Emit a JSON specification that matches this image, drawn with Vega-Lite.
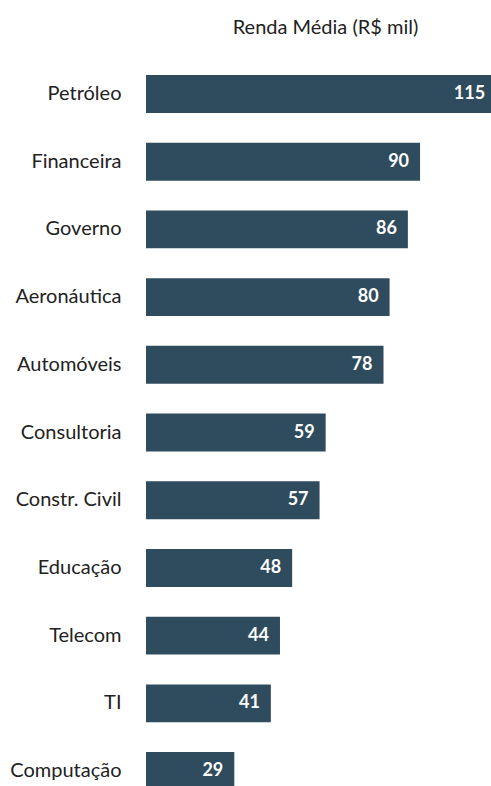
{
  "$schema": "https://vega.github.io/schema/vega-lite/v6.json",
  "autosize": "none",
  "width": 345,
  "height": 715,
  "padding": {"left": 146, "top": 75, "right": 0, "bottom": 0},
  "background": "white",
  "title": {
    "text": "Renda Média (R$ mil)",
    "anchor": "middle",
    "dx": 7,
    "offset": 37,
    "fontSize": 20,
    "font": "Lato",
    "fontWeight": "normal",
    "color": "#222222"
  },
  "data": {
    "values": [
      {"setor": "Petróleo", "renda": 115},
      {"setor": "Financeira", "renda": 90},
      {"setor": "Governo", "renda": 86},
      {"setor": "Aeronáutica", "renda": 80},
      {"setor": "Automóveis", "renda": 78},
      {"setor": "Consultoria", "renda": 59},
      {"setor": "Constr. Civil", "renda": 57},
      {"setor": "Educação", "renda": 48},
      {"setor": "Telecom", "renda": 44},
      {"setor": "TI", "renda": 41},
      {"setor": "Computação", "renda": 29}
    ]
  },
  "encoding": {
    "y": {
      "field": "setor",
      "type": "nominal",
      "sort": null,
      "scale": {"paddingInner": 0.44, "paddingOuter": 0},
      "axis": {
        "title": null,
        "domain": false,
        "ticks": false,
        "labelPadding": 25,
        "labelFont": "Lato",
        "labelFontSize": 20,
        "labelColor": "#222222"
      }
    },
    "x": {
      "field": "renda",
      "type": "quantitative",
      "scale": {"domain": [0, 113.3], "nice": false},
      "axis": null
    }
  },
  "layer": [
    {"mark": {"type": "bar", "color": "#2f4b5e"}},
    {
      "mark": {
        "type": "text",
        "align": "right",
        "baseline": "middle",
        "dx": -11,
        "color": "white",
        "font": "Lato",
        "fontWeight": "bold",
        "fontSize": 18
      },
      "encoding": {"text": {"field": "renda", "type": "quantitative"}}
    }
  ],
  "config": {"view": {"stroke": null}}
}
